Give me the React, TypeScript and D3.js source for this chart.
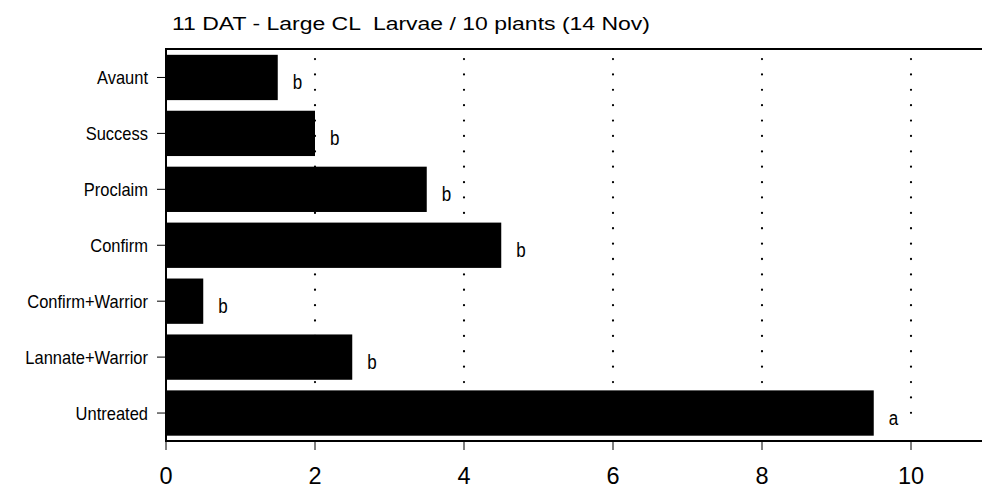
import React from "react";
import * as d3 from "d3";

const categories = ["Avaunt", "Success", "Proclaim", "Confirm", "Confirm+Warrior", "Lannate+Warrior", "Untreated"];
const values = [1.5, 2.0, 3.5, 4.5, 0.5, 2.5, 9.5];
const letters = ["b", "b", "b", "b", "b", "b", "a"];
const xTicks = [0, 2, 4, 6, 8, 10];
const gridTicks = [2, 4, 6, 8, 10];
const title = "11 DAT - Large CL  Larvae / 10 plants (14 Nov)";

function SText({ x, y, sx = 1, sy = 1, children, ...rest }: any) {
  return (
    <text transform={`translate(${x},${y}) scale(${sx},${sy})`} x={0} y={0} fill="#000" {...rest}>
      {children}
    </text>
  );
}

export default function App() {
  const W = 982, H = 489;
  const left = 166, top = 49, bottom = 441, right = 982;
  const x = d3.scaleLinear().domain([0, 10]).range([left, 911]);
  const y = d3.scaleBand().domain(categories).range([49.5, 441]).paddingInner(0.19).paddingOuter(0.095);
  const font = "Arial, 'Liberation Sans', sans-serif";
  return (
    <svg width={W} height={H} style={{ position: "absolute", left: 0, top: 0, background: "#fff" }} fontFamily={font}>
      <text x={172} y={29.5} fontSize={17.5} fill="#000" textLength={478} lengthAdjust="spacingAndGlyphs"
        style={{ whiteSpace: "pre" }}>{title}</text>
      {gridTicks.map((t) => (
        <line key={"g" + t} x1={x(t)} x2={x(t)} y1={59} y2={427} stroke="#000" strokeWidth={2.2}
          strokeDasharray="0.1 15.28" strokeLinecap="round" />
      ))}
      {categories.map((c, i) => {
        const cy = y(c)! + y.bandwidth() / 2;
        return (
          <g key={c}>
            <rect x={x(0) + 1} y={y(c)!} width={x(values[i]) - x(0) - 1} height={y.bandwidth()} fill="#000" />
            <SText x={x(values[i]) + 15} y={cy + 12} sy={1.15} fontSize={17}>{letters[i]}</SText>
            <line x1={157} x2={left} y1={cy} y2={cy} stroke="#000" strokeWidth={1} />
            <SText x={148} y={cy + 6.5} sy={1.15} fontSize={16.5} textAnchor="end">{c}</SText>
          </g>
        );
      })}
      <line x1={left} x2={right} y1={top} y2={top} stroke="#000" strokeWidth={2.2} />
      <line x1={left} x2={right} y1={bottom} y2={bottom} stroke="#000" strokeWidth={2.2} />
      <line x1={left} x2={left} y1={top - 1} y2={bottom + 1} stroke="#000" strokeWidth={2} />
      {xTicks.map((t) => (
        <g key={"x" + t}>
          <line x1={x(t)} x2={x(t)} y1={bottom} y2={450} stroke="#000" strokeWidth={1} />
          <text x={x(t)} y={484} fontSize={23.5} textAnchor="middle" fill="#000">{t}</text>
        </g>
      ))}
    </svg>
  );
}
